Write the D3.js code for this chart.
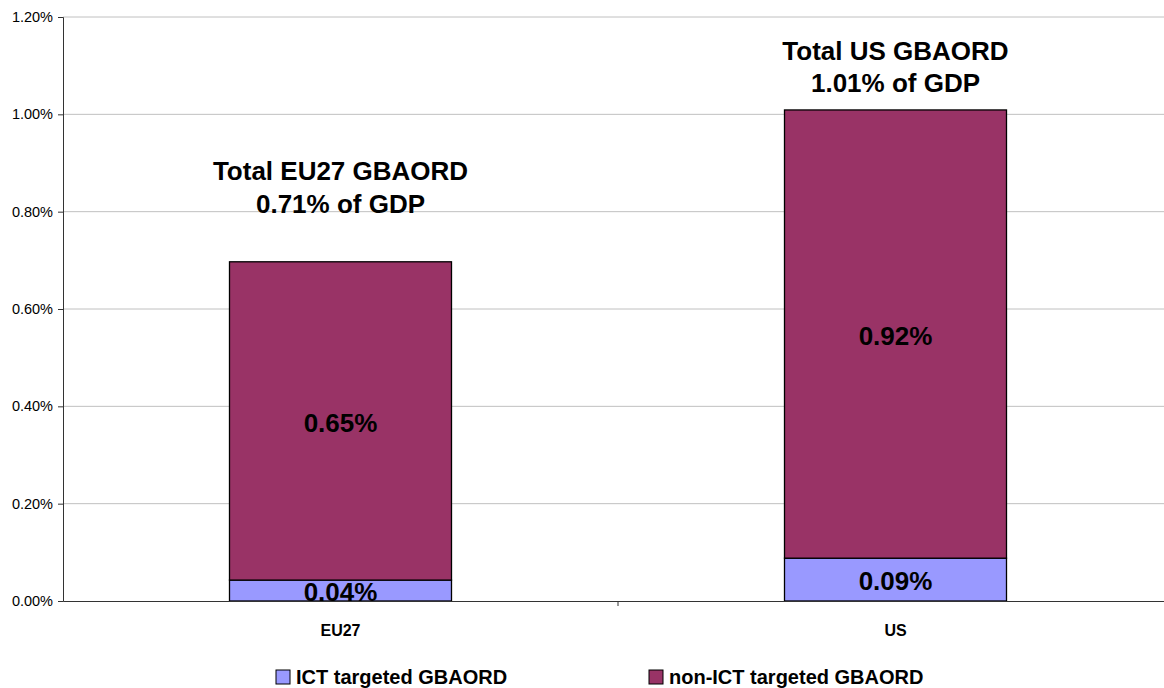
<!DOCTYPE html>
<html>
<head>
<meta charset="utf-8">
<script src="https://cdn.jsdelivr.net/npm/d3@7"></script>
<style>
  body { margin: 0; background: #fff; }
  text { font-family: Arial, "Liberation Sans", sans-serif; }
</style>
</head>
<body>
<svg width="1164" height="688"></svg>
<script>
// data
var categories = ["EU27", "US"];
var ictValues = [0.043, 0.088];
var nonIctValues = [0.654, 0.921];
var ictLabels = ["0.04%", "0.09%"];
var nonIctLabels = ["0.65%", "0.92%"];
var totalLabels = [["Total EU27 GBAORD", "0.71% of GDP"], ["Total US GBAORD", "1.01% of GDP"]];
var seriesNames = ["ICT targeted GBAORD", "non-ICT targeted GBAORD"];
var colors = ["#9999FF", "#993366"];
var yTicks = [0, 0.2, 0.4, 0.6, 0.8, 1.0, 1.2];

// layout: title line offsets above each bar top (px)
var titleOffsets = [[92, 59], [60, 28]];

var svg = d3.select("svg");
var plotL = 63, plotR = 1173, plotT = 17, plotB = 601;

var x = d3.scaleBand().domain(categories).range([plotL, plotR]).paddingInner(0).paddingOuter(0);
var y = d3.scaleLinear().domain([0, 1.2]).range([plotB, plotT]);
var barW = x.bandwidth() * 0.4;

// gridlines
svg.append("g").selectAll("line").data(yTicks.slice(1)).enter().append("line")
    .attr("x1", plotL).attr("x2", plotR)
    .attr("y1", function(d) { return y(d); })
    .attr("y2", function(d) { return y(d); })
    .attr("stroke", "#c0c0c0").attr("stroke-width", 1);

// y axis
var yAxis = d3.axisLeft(y).tickValues(yTicks).tickSize(5)
    .tickFormat(function(d) { return d3.format(".2f")(d) + "%"; });
var gy = svg.append("g").attr("transform", "translate(" + plotL + ",0)").call(yAxis);
gy.select(".domain").attr("stroke", "#333");
gy.selectAll(".tick line").attr("stroke", "#333");
gy.selectAll("text").attr("font-size", 14.5).attr("fill", "#000").attr("x", -10);

// bars
var stacks = categories.map(function(c, i) {
  return { cat: c, ict: ictValues[i], non: nonIctValues[i] };
});
var bars = svg.append("g");
bars.selectAll("rect.ict").data(stacks).enter().append("rect")
    .attr("x", function(d) { return x(d.cat) + (x.bandwidth() - barW) / 2; })
    .attr("width", barW)
    .attr("y", function(d) { return y(d.ict); })
    .attr("height", function(d) { return y(0) - y(d.ict); })
    .attr("fill", colors[0]).attr("stroke", "#000").attr("stroke-width", 1.3);
bars.selectAll("rect.non").data(stacks).enter().append("rect")
    .attr("x", function(d) { return x(d.cat) + (x.bandwidth() - barW) / 2; })
    .attr("width", barW)
    .attr("y", function(d) { return y(d.ict + d.non); })
    .attr("height", function(d) { return y(d.ict) - y(d.ict + d.non); })
    .attr("fill", colors[1]).attr("stroke", "#000").attr("stroke-width", 1.3);

// x axis
var gx = svg.append("g").attr("transform", "translate(0," + plotB + ")")
    .call(d3.axisBottom(x).tickSize(0).tickPadding(24));
gx.select(".domain").attr("stroke", "#333");
gx.selectAll("text").attr("font-size", 16).attr("font-weight", "bold").attr("fill", "#000");
gx.append("line").attr("x1", x("US")).attr("x2", x("US")).attr("y1", 0).attr("y2", 5).attr("stroke", "#333");

// value labels
var labels = svg.append("g").attr("text-anchor", "middle")
    .attr("font-size", 26).attr("font-weight", "bold");
stacks.forEach(function(d, i) {
  var cx = x(d.cat) + x.bandwidth() / 2;
  labels.append("text").attr("x", cx).attr("y", (y(0) + y(d.ict)) / 2 + 1)
      .attr("dy", "0.38em").text(ictLabels[i]);
  labels.append("text").attr("x", cx).attr("y", (y(d.ict) + y(d.ict + d.non)) / 2 + 1)
      .attr("dy", "0.38em").text(nonIctLabels[i]);
  var t = y(d.ict + d.non);
  labels.append("text").attr("x", cx).attr("y", t - titleOffsets[i][0]).attr("dy", "0.38em")
      .text(totalLabels[i][0]);
  labels.append("text").attr("x", cx).attr("y", t - titleOffsets[i][1]).attr("dy", "0.38em")
      .text(totalLabels[i][1]);
});

// legend
var legendX = [276, 649];
var legend = svg.append("g");
seriesNames.forEach(function(s, i) {
  legend.append("rect").attr("x", legendX[i]).attr("y", 670).attr("width", 14).attr("height", 14)
      .attr("fill", colors[i]).attr("stroke", "#000").attr("stroke-width", 1);
  legend.append("text").attr("x", legendX[i] + 20).attr("y", 677).attr("dy", "0.36em")
      .attr("font-size", 20).attr("font-weight", "bold").text(s);
});
</script>
</body>
</html>
